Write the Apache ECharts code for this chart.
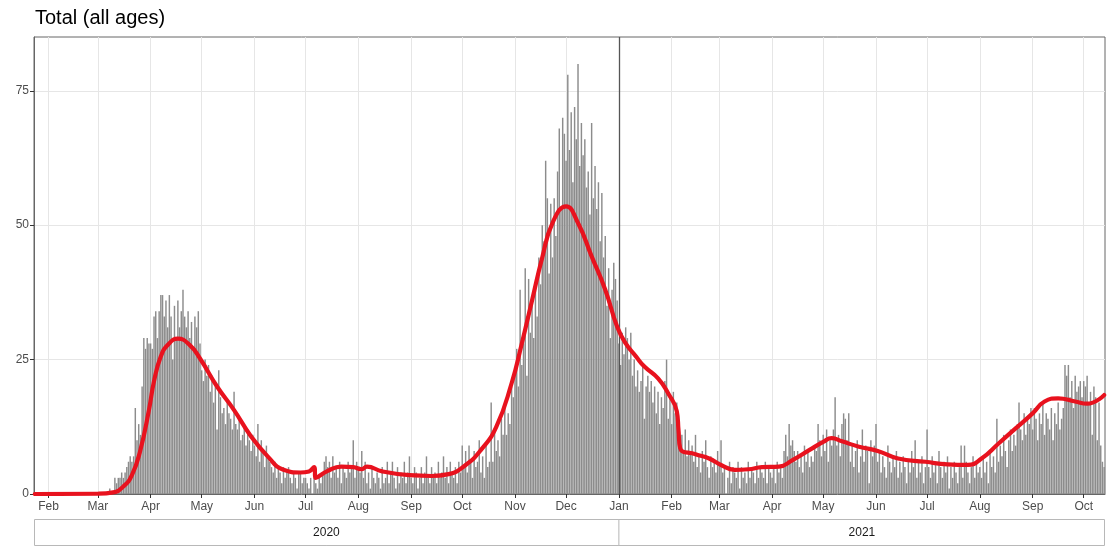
<!DOCTYPE html>
<html><head><meta charset="utf-8">
<script src="https://cdn.jsdelivr.net/npm/echarts@6/dist/echarts.min.js"></script>
<style>html,body{margin:0;padding:0;background:#fff}#c{width:1109px;height:548px}</style>
</head><body><div id="c"></div>
<script>
// ---- daily values, one array per month ----
const y2020_01 = [0,0,0,0,0,0,0,0]; // Jan 24-31
const y2020_02 = [0,0,0,0,0,0,0,0,0,0,0,0,0,0,0,0,0,0,0,0,0,0,0,0,0,0,0,0,0];
const y2020_03 = [0,0,0,0,0,0,0,1,0,0, 3,2,3,3,4,3,4,5,6,7, 6,7,16,10,13,11,20,29,27,29, 28];
const y2020_04 = [28,27,33,34,29,34,37,37,33,36, 31,37,33,25,35,29,36,31,34,38, 33,31,34,29,32,27,33,31,34,28];
const y2020_05 = [23,21,25,22,24,19,22,17,20,12, 23,18,15,16,13,17,15,14,12,19, 13,12,14,10,11,13,9,12,10,8, 11];
const y2020_06 = [9,7,13,6,10,8,5,9,7,6, 5,4,6,3,5,4,2,5,3,4, 5,3,2,4,3,1,4,4,2,3];
const y2020_07 = [3,2,1,3,0,3,2,1,3,2, 4,6,7,5,6,3,7,4,5,3, 6,2,5,4,3,6,4,5,10,3, 6];
const y2020_08 = [5,4,8,3,6,2,4,1,5,3, 2,4,3,1,5,2,3,6,2,4, 6,3,1,5,2,4,3,6,2,4, 7];
const y2020_09 = [3,2,5,4,1,3,5,2,4,7, 3,2,5,3,4,2,6,3,4,7, 3,5,2,6,4,3,5,2,6,4];
const y2020_10 = [9,5,8,4,9,6,3,8,5,6, 10,4,7,3,9,5,6,17,6,12, 8,10,7,14,11,16,11,15,13,20, 18];
const y2020_11 = [22,27,20,38,24,28,42,22,40,30, 36,29,39,33,44,39,50,47,62,55, 41,54,44,55,48,60,68,53,70,67];
const y2020_12 = [62,78,64,71,58,72,66,80,61,69, 63,66,57,60,52,69,55,61,53,58, 47,56,44,48,35,42,29,38,43,40, 36];
const y2021_01 = [28,24,30,26,31,29,25,30,22,25, 20,23,19,21,24,14,20,22,19,21, 17,20,15,19,13,18,16,21,25,14, 18];
const y2021_02 = [13,19,15,17,13,9,11,8,12,7, 10,8,9,6,11,5,7,4,8,6, 10,5,3,7,5,6,4,8];
const y2021_03 = [6,10,4,5,0,3,6,2,5,4, 3,6,1,5,3,4,2,6,3,5, 4,2,6,3,5,4,3,6,2,5, 4];
const y2021_04 = [3,5,2,6,4,5,3,8,11,7, 13,9,10,8,6,8,5,7,4,9, 6,8,5,7,6,9,8,13,10,7];
const y2021_05 = [11,8,12,6,10,9,12,18,9,11, 7,13,15,14,10,15,6,9,5,8, 10,4,7,12,6,9,8,2,10,7, 9];
const y2021_06 = [13,6,8,4,7,5,3,9,6,4, 7,5,8,3,6,4,7,5,2,6, 4,8,5,10,3,6,4,7,2,5];
const y2021_07 = [12,5,3,7,4,6,2,8,5,3, 6,4,7,1,5,3,6,4,2,5, 9,3,9,6,4,2,5,7,3,6, 4];
const y2021_08 = [5,3,7,4,6,2,8,5,7,4, 14,6,9,7,11,8,5,10,12,8, 11,9,13,17,12,10,15,11,14,13, 16];
const y2021_09 = [12,16,14,10,15,13,17,11,15,14, 12,16,10,15,13,17,12,14,16,24, 22,24,18,21,16,22,19,20,21,18];
const y2021_10 = [21,20,22,17,19,11,20,18,10,17, 9,6,5]; // Oct 1-13

// ---- smoothed trend (red line) ----
const trendDates = ['2020-01-24','2020-03-01','2020-03-10','2020-03-16','2020-03-21','2020-03-26','2020-03-31','2020-04-03','2020-04-07','2020-04-11','2020-04-17','2020-04-24','2020-04-30','2020-05-10','2020-05-20','2020-05-30','2020-06-09','2020-06-18','2020-06-28','2020-07-03','2020-07-06','2020-07-07','2020-07-14','2020-07-22','2020-07-29','2020-08-03','2020-08-06','2020-08-15','2020-08-31','2020-09-13','2020-09-23','2020-10-03','2020-10-12','2020-10-21','2020-10-30','2020-11-05','2020-11-11','2020-11-17','2020-11-23','2020-12-01','2020-12-08','2020-12-16','2020-12-24','2020-12-31','2021-01-05','2021-01-11','2021-01-16','2021-01-24','2021-01-30','2021-02-04','2021-02-05','2021-02-06','2021-02-15','2021-02-23','2021-03-02','2021-03-10','2021-03-18','2021-03-26','2021-04-05','2021-04-13','2021-04-23','2021-05-01','2021-05-06','2021-05-12','2021-05-22','2021-06-02','2021-06-14','2021-06-30','2021-07-13','2021-07-25','2021-08-02','2021-08-12','2021-08-22','2021-09-01','2021-09-08','2021-09-16','2021-09-26','2021-10-03','2021-10-13'];
const trendValues = [0,0.05,0.3,1.4,3.5,8.2,15.6,21,25.6,27.7,28.9,27.7,25.2,20,15.6,10.7,6.9,4.5,4.0,4.2,5.0,3.0,4.3,5.1,5.0,4.6,5.1,4.2,3.5,3.35,3.7,5.4,8.2,12.5,20.6,28,36,44,50.4,53.5,50.4,44.2,38,31.1,28,25.6,23.7,21.5,18.7,15.4,12,8.5,7.4,6.6,5.4,4.5,4.6,5.0,5.1,6.3,8.2,9.7,10.4,9.8,8.8,8.0,6.6,6.0,5.5,5.4,6.6,9.4,12.2,15.0,17.2,17.8,17.2,16.8,18.4];

const yTickValues = [0,25,50,75];
const monthNames = ['Jan','Feb','Mar','Apr','May','Jun','Jul','Aug','Sep','Oct','Nov','Dec'];
const yearLabels = ['2020','2021'];

const monthBlocks = [
  [2020,1,24,y2020_01],[2020,2,1,y2020_02],[2020,3,1,y2020_03],[2020,4,1,y2020_04],
  [2020,5,1,y2020_05],[2020,6,1,y2020_06],[2020,7,1,y2020_07],[2020,8,1,y2020_08],
  [2020,9,1,y2020_09],[2020,10,1,y2020_10],[2020,11,1,y2020_11],[2020,12,1,y2020_12],
  [2021,1,1,y2021_01],[2021,2,1,y2021_02],[2021,3,1,y2021_03],[2021,4,1,y2021_04],
  [2021,5,1,y2021_05],[2021,6,1,y2021_06],[2021,7,1,y2021_07],[2021,8,1,y2021_08],
  [2021,9,1,y2021_09],[2021,10,1,y2021_10]
];
const pad = n => (n < 10 ? '0' : '') + n;
const cats = [], vals = [];
monthBlocks.forEach(([y, m, d0, arr]) => {
  arr.forEach((v, i) => { cats.push(y + '-' + pad(m) + '-' + pad(d0 + i)); vals.push(v); });
});

const FF = '"Liberation Sans", Arial, Helvetica, sans-serif';
const isMonthStart = (idx, v) => /-01$/.test(v);

const chart = echarts.init(document.getElementById('c'), null, {renderer: 'canvas'});
const GL = 34, GR = 4, GT = 37, GB = 54;
chart.setOption({
  animation: false,
  title: {text: 'Total (all ages)', left: 30, top: 3, padding: 5,
    textStyle: {fontSize: 20, fontWeight: 'normal', color: '#000', fontFamily: FF}},
  grid: {left: GL, right: GR, top: GT, bottom: GB, show: true, borderColor: '#666', borderWidth: 1, backgroundColor: 'transparent'},
  xAxis: {
    type: 'category', data: cats, boundaryGap: true,
    axisLine: {show: true, lineStyle: {color: '#666', width: 1}},
    axisTick: {show: true, interval: isMonthStart, alignWithLabel: true, length: 4, lineStyle: {color: '#333'}},
    axisLabel: {interval: isMonthStart, formatter: v => monthNames[parseInt(v.slice(5, 7), 10) - 1],
      color: '#4d4d4d', fontSize: 12, margin: 7, fontFamily: FF},
    splitLine: {show: true, interval: isMonthStart, alignWithLabel: true, lineStyle: {color: '#e6e6e6', width: 1}}
  },
  yAxis: {
    type: 'value', min: 0, max: 85, interval: 12.5,
    axisLine: {show: true, lineStyle: {color: '#666', width: 1}},
    axisTick: {show: true, length: 4, customValues: yTickValues, lineStyle: {color: '#333'}},
    axisLabel: {customValues: yTickValues, color: '#4d4d4d', fontSize: 12, margin: 5, fontFamily: FF},
    splitLine: {show: true, lineStyle: {color: '#e6e6e6', width: 1}}
  },
  series: [
    {type: 'bar', data: vals, barCategoryGap: '15%', itemStyle: {color: '#8c8c8c'}, silent: true,
      markLine: {symbol: 'none', silent: true, label: {show: false}, animation: false,
        lineStyle: {color: '#555', width: 1.3, type: 'solid'}, data: [{xAxis: '2021-01-01'}]}},
    {type: 'line', data: trendDates.map((d, i) => [d, trendValues[i]]), smooth: 0.5,
      showSymbol: false, silent: true, z: 5, lineStyle: {color: '#e8121e', width: 4.2, cap: 'round', join: 'round'}}
  ]
});

// year strips below the axis
const xl = GL, xr = chart.getWidth() - GR;
const xm = chart.convertToPixel({xAxisIndex: 0}, '2021-01-01');
const sTop = 519.5, sH = 26;
chart.setOption({graphic: [
  {type: 'rect', shape: {x: xl + 0.5, y: sTop, width: xm - xl, height: sH}, style: {fill: '#fff', stroke: '#b8b8b8', lineWidth: 1}},
  {type: 'rect', shape: {x: xm, y: sTop, width: xr - xm - 0.5, height: sH}, style: {fill: '#fff', stroke: '#b8b8b8', lineWidth: 1}},
  {type: 'text', x: (xl + xm) / 2, y: sTop + sH / 2, style: {text: yearLabels[0], align: 'center', verticalAlign: 'middle', fill: '#1a1a1a', fontSize: 12, fontFamily: FF}},
  {type: 'text', x: (xm + xr) / 2, y: sTop + sH / 2, style: {text: yearLabels[1], align: 'center', verticalAlign: 'middle', fill: '#1a1a1a', fontSize: 12, fontFamily: FF}}
]});
</script></body></html>
